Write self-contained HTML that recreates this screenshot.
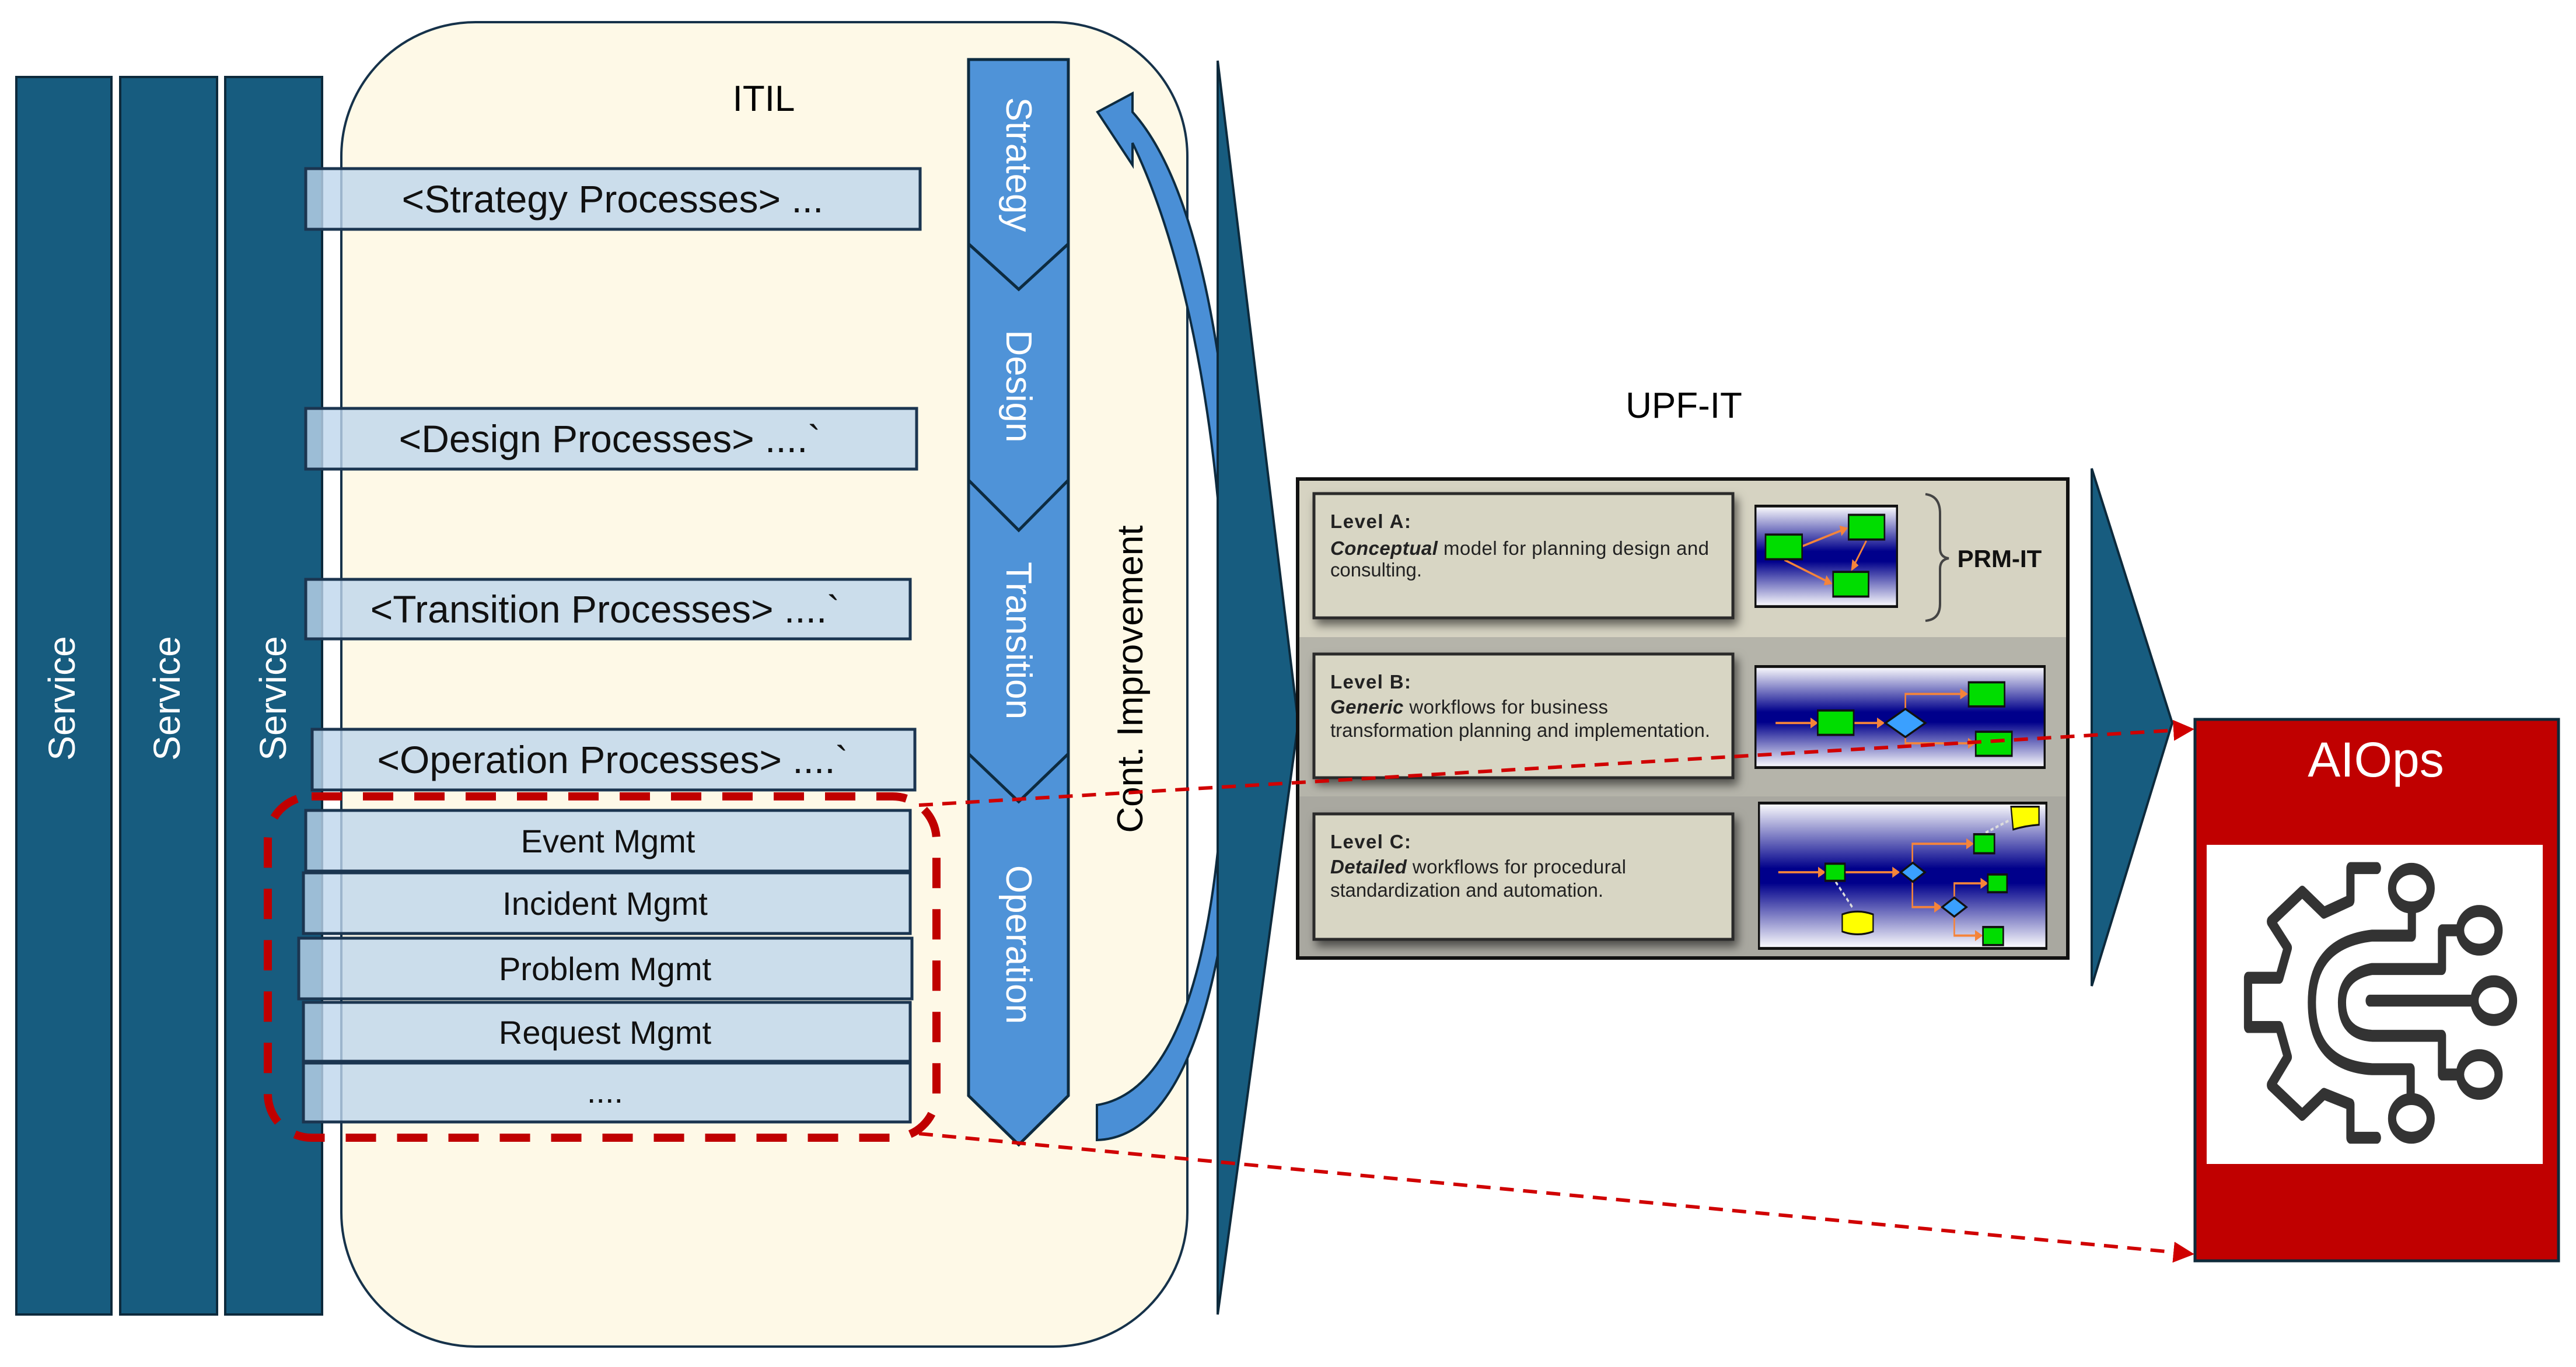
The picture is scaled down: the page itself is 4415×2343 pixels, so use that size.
<!DOCTYPE html>
<html><head><meta charset="utf-8"><style>
html,body{margin:0;padding:0;background:#fff;}
svg{display:block;}
text{font-family:"Liberation Sans",sans-serif;}
</style></head><body>
<svg width="4415" height="2343" viewBox="0 0 4415 2343" xmlns="http://www.w3.org/2000/svg">
<defs>
<linearGradient id="blu" x1="0" y1="0" x2="0" y2="1">
<stop offset="0" stop-color="#ffffff"/><stop offset="0.45" stop-color="#00008b"/><stop offset="0.55" stop-color="#00008b"/><stop offset="1" stop-color="#ffffff"/>
</linearGradient>
<filter id="sh" x="-5%" y="-5%" width="115%" height="125%"><feDropShadow dx="6" dy="10" stdDeviation="8" flood-color="#000" flood-opacity="0.55"/></filter>
<marker id="ar" markerWidth="6" markerHeight="6" refX="5" refY="3" orient="auto" markerUnits="strokeWidth"><path d="M0,0 L6,3 L0,6 z" fill="#d00000"/></marker>
<marker id="oa" markerWidth="5" markerHeight="5" refX="4" refY="2.5" orient="auto" markerUnits="strokeWidth"><path d="M0,0 L5,2.5 L0,5 z" fill="#f5843a"/></marker>
</defs>

<!-- Service columns -->
<rect x="28" y="132" width="163" height="2121" fill="#175c7f" stroke="#0d2a3c" stroke-width="4"/>
<rect x="206" y="132" width="166" height="2121" fill="#175c7f" stroke="#0d2a3c" stroke-width="4"/>
<rect x="386" y="132" width="166" height="2121" fill="#175c7f" stroke="#0d2a3c" stroke-width="4"/>
<text transform="translate(128,1197) rotate(-90)" text-anchor="middle" font-size="64" fill="#fff">Service</text>
<text transform="translate(308,1197) rotate(-90)" text-anchor="middle" font-size="64" fill="#fff">Service</text>
<text transform="translate(490,1197) rotate(-90)" text-anchor="middle" font-size="64" fill="#fff">Service</text>

<!-- ITIL box -->
<rect x="585" y="38" width="1450" height="2270" rx="230" ry="230" fill="#fef9e7" stroke="#16324a" stroke-width="4"/>
<text x="1309" y="190" text-anchor="middle" font-size="62" fill="#000">ITIL</text>

<!-- process bars -->
<g stroke="#1b3550" stroke-width="5" fill="rgba(190,214,236,0.8)">
<rect x="524" y="289" width="1053" height="104"/>
<rect x="524" y="700" width="1047" height="104"/>
<rect x="524" y="993" width="1036" height="102"/>
<rect x="535" y="1250" width="1033" height="104"/>
<rect x="524" y="1389" width="1036" height="104"/>
<rect x="520" y="1496" width="1040" height="104"/>
<rect x="512" y="1608" width="1051" height="104"/>
<rect x="520" y="1718" width="1040" height="101"/>
<rect x="520" y="1822" width="1040" height="101"/>
</g>
<g font-size="66" fill="#111" text-anchor="middle">
<text x="1050" y="364">&lt;Strategy Processes&gt; ...</text>
<text x="1045" y="775">&lt;Design Processes&gt; ....`</text>
<text x="1037" y="1067">&lt;Transition Processes&gt; ....`</text>
<text x="1050" y="1325">&lt;Operation Processes&gt; ....`</text>
</g>
<g font-size="56" fill="#111" text-anchor="middle">
<text x="1042" y="1461">Event Mgmt</text>
<text x="1037" y="1568">Incident Mgmt</text>
<text x="1037" y="1680">Problem Mgmt</text>
<text x="1037" y="1789">Request Mgmt</text>
<text x="1037" y="1890">....</text>
</g>

<!-- red dashed rounded box -->
<rect x="459" y="1365" width="1146" height="585" rx="75" ry="75" fill="none" stroke="#c00000" stroke-width="14" stroke-dasharray="52,36"/>

<!-- chevron column -->
<g fill="#4f93d8" stroke="#0d2b40" stroke-width="5" stroke-linejoin="miter">
<polygon points="1660,102 1831,102 1831,418 1746,496 1660,418"/>
<polygon points="1660,418 1746,496 1831,418 1831,823 1746,909 1660,823"/>
<polygon points="1660,823 1746,909 1831,823 1831,1292 1746,1374 1660,1292"/>
<polygon points="1660,1292 1746,1374 1831,1292 1831,1878 1746,1962 1660,1878"/>
</g>
<g font-size="62" fill="#fff" text-anchor="middle">
<text transform="translate(1725,282) rotate(90)">Strategy</text>
<text transform="translate(1725,662) rotate(90)">Design</text>
<text transform="translate(1725,1098) rotate(90)">Transition</text>
<text transform="translate(1725,1619) rotate(90)">Operation</text>
</g>
<text transform="translate(1958,1164) rotate(-90)" text-anchor="middle" font-size="62" fill="#000">Cont. Improvement</text>

<!-- curved arrow -->
<path d="M1880,1894 C2030,1870 2095,1600 2102,1200 C2105,800 2040,450 1941,245 L1941,283 L1881,192 L1941,160 L1941,192 C2065,330 2125,700 2125,1200 C2120,1650 2040,1950 1880,1954 Z" fill="#4a8fd6" stroke="#0d2b40" stroke-width="4"/>

<!-- big triangle 1 -->
<polygon points="2087,104 2225,1239 2087,2253" fill="#175c7f" stroke="#0d2a3c" stroke-width="4"/>

<!-- UPF-IT -->
<text x="2886" y="716" text-anchor="middle" font-size="62" fill="#000">UPF-IT</text>
<rect x="2224" y="821" width="1320" height="821" fill="#d6d3c2" stroke="#111" stroke-width="6"/>
<rect x="2227" y="1092" width="1314" height="547" fill="#b5b4aa"/>
<rect x="2227" y="1365" width="1314" height="274" fill="#a9a8a0"/>
<g fill="#d8d6c4" stroke="#2a2a2a" stroke-width="5" filter="url(#sh)">
<rect x="2252" y="846" width="718" height="213"/>
<rect x="2252" y="1121" width="718" height="212"/>
<rect x="2252" y="1395" width="718" height="215"/>
</g>
<g font-size="33" fill="#222">
<text x="2280" y="905" font-weight="bold" textLength="138">Level A:</text>
<text x="2280" y="951" textLength="649"><tspan font-weight="bold" font-style="italic">Conceptual</tspan> model for planning design and</text>
<text x="2280" y="988" textLength="157">consulting.</text>
<text x="2280" y="1180" font-weight="bold" textLength="138">Level B:</text>
<text x="2280" y="1223" textLength="476"><tspan font-weight="bold" font-style="italic">Generic</tspan> workflows for business</text>
<text x="2280" y="1263" textLength="651">transformation planning and implementation.</text>
<text x="2280" y="1454" font-weight="bold" textLength="138">Level C:</text>
<text x="2280" y="1497" textLength="507"><tspan font-weight="bold" font-style="italic">Detailed</tspan> workflows for procedural</text>
<text x="2280" y="1537" textLength="468">standardization and automation.</text>
</g>

<!-- image A -->
<svg x="3007" y="865" width="246" height="177" viewBox="20 115 648 335" preserveAspectRatio="none">
<rect x="24" y="119" width="640" height="327" fill="url(#blu)" stroke="#111" stroke-width="10"/>
<g stroke="#f5843a" stroke-width="7" fill="none" marker-end="url(#oa)">
<line x1="235" y1="250" x2="435" y2="192"/><line x1="525" y1="232" x2="460" y2="325"/><line x1="155" y1="294" x2="365" y2="370"/>
</g>
<g fill="#00dd00" stroke="#111" stroke-width="7">
<rect x="70" y="212" width="165" height="80"/><rect x="445" y="148" width="162" height="80"/><rect x="375" y="333" width="160" height="80"/>
</g>
</svg>
<!-- brace & PRM-IT -->
<path d="M3300,847 Q3325,850 3325,880 L3325,940 Q3325,955 3340,957 Q3325,959 3325,975 L3325,1035 Q3325,1062 3300,1064" fill="none" stroke="#444" stroke-width="4"/>
<text x="3427" y="972" text-anchor="middle" font-size="42" font-weight="bold" fill="#111">PRM-IT</text>

<!-- image B -->
<svg x="3007" y="1140" width="499" height="178" viewBox="20 630 1312 332" preserveAspectRatio="none">
<rect x="24" y="634" width="1304" height="324" fill="url(#blu)" stroke="#111" stroke-width="10"/>
<g stroke="#f5843a" stroke-width="7" fill="none" marker-end="url(#oa)">
<line x1="115" y1="815" x2="300" y2="815"/><line x1="470" y1="815" x2="600" y2="815"/>
<polyline points="700,770 700,722 975,722"/><polyline points="700,860 700,880 1010,880"/>
</g>
<polygon points="610,815 700,770 790,815 700,860" fill="#3aa0ff" stroke="#111" stroke-width="7"/>
<g fill="#00dd00" stroke="#111" stroke-width="7">
<rect x="305" y="775" width="162" height="78"/><rect x="985" y="685" width="162" height="77"/><rect x="1017" y="843" width="163" height="77"/>
</g>
</svg>

<!-- image C -->
<svg x="3013" y="1374" width="496" height="254" viewBox="28 1062 1312 468" preserveAspectRatio="none">
<rect x="32" y="1066" width="1304" height="460" fill="url(#blu)" stroke="#111" stroke-width="10"/>
<g stroke="#f5843a" stroke-width="7" fill="none" marker-end="url(#oa)">
<line x1="120" y1="1285" x2="328" y2="1285"/><line x1="422" y1="1285" x2="665" y2="1285"/>
<polyline points="728,1255 728,1195 1000,1195"/><polyline points="728,1315 728,1395 855,1395"/>
<polyline points="918,1365 918,1320 1065,1320"/><polyline points="918,1425 918,1485 1040,1485"/>
</g>
<g stroke="#ddd" stroke-width="8" stroke-dasharray="14,10"><line x1="1060" y1="1160" x2="1170" y2="1120"/><line x1="380" y1="1315" x2="460" y2="1400"/></g>
<polygon points="675,1285 730,1255 785,1285 730,1315" fill="#3aa0ff" stroke="#111" stroke-width="7"/>
<polygon points="863,1395 918,1365 973,1395 918,1425" fill="#3aa0ff" stroke="#111" stroke-width="7"/>
<g fill="#00dd00" stroke="#111" stroke-width="7">
<rect x="333" y="1258" width="89" height="54"/><rect x="1007" y="1165" width="93" height="60"/><rect x="1070" y="1292" width="87" height="56"/><rect x="1048" y="1458" width="92" height="57"/>
</g>
<path d="M1175,1078 L1302,1078 L1302,1135 Q1240,1138 1185,1150 Z" fill="#ffff00" stroke="#111" stroke-width="6"/>
<path d="M410,1418 L410,1472 Q480,1490 550,1472 L550,1418 Q480,1400 410,1418 Z" fill="#ffff00" stroke="#111" stroke-width="6"/>
</svg>

<!-- triangle 2 -->
<polygon points="3585,803 3723,1239 3585,1690" fill="#175c7f" stroke="#0d2a3c" stroke-width="4"/>

<!-- AIOps -->
<rect x="3762" y="1233" width="623" height="928" fill="#c00000" stroke="#0f2a3a" stroke-width="5"/>
<rect x="3782" y="1448" width="576" height="547" fill="#fff"/>
<text x="4072" y="1331" text-anchor="middle" font-size="84" fill="#fff">AIOps</text>
<svg x="3760" y="1230" width="640" height="940" viewBox="0 0 1550 1560" preserveAspectRatio="none">
<g fill="none" stroke="#333" stroke-width="34" stroke-linejoin="round" stroke-linecap="round">
<path d="M760,428 L650,428 L650,520 L540,555 L450,495 L320,580 L390,655 L355,740 L225,740 L225,880 L355,880 L390,965 L320,1045 L450,1130 L540,1070 L650,1100 L650,1195 L760,1195"/>
<path d="M905,550 L905,620 L740,620 Q490,640 490,810 Q490,990 740,1000 L900,1000 L900,1080"/>
<path d="M1090,605 L1030,605 L1030,715 L740,715 Q615,730 615,810 Q615,900 740,905 L1030,905 L1030,1015 L1090,1015"/>
<path d="M730,805 L1150,805"/>
<ellipse cx="903" cy="485" rx="80" ry="55"/>
<ellipse cx="1185" cy="605" rx="80" ry="55"/>
<ellipse cx="1245" cy="805" rx="80" ry="55"/>
<ellipse cx="1185" cy="1015" rx="80" ry="55"/>
<ellipse cx="903" cy="1140" rx="80" ry="55"/>
</g>
</svg>

<!-- red dashed connectors -->
<line x1="1575" y1="1380" x2="3755" y2="1250" stroke="#d00000" stroke-width="6" stroke-dasharray="24,16" marker-end="url(#ar)"/>
<line x1="1575" y1="1943" x2="3755" y2="2149" stroke="#d00000" stroke-width="6" stroke-dasharray="24,16" marker-end="url(#ar)"/>
</svg>
</body></html>
